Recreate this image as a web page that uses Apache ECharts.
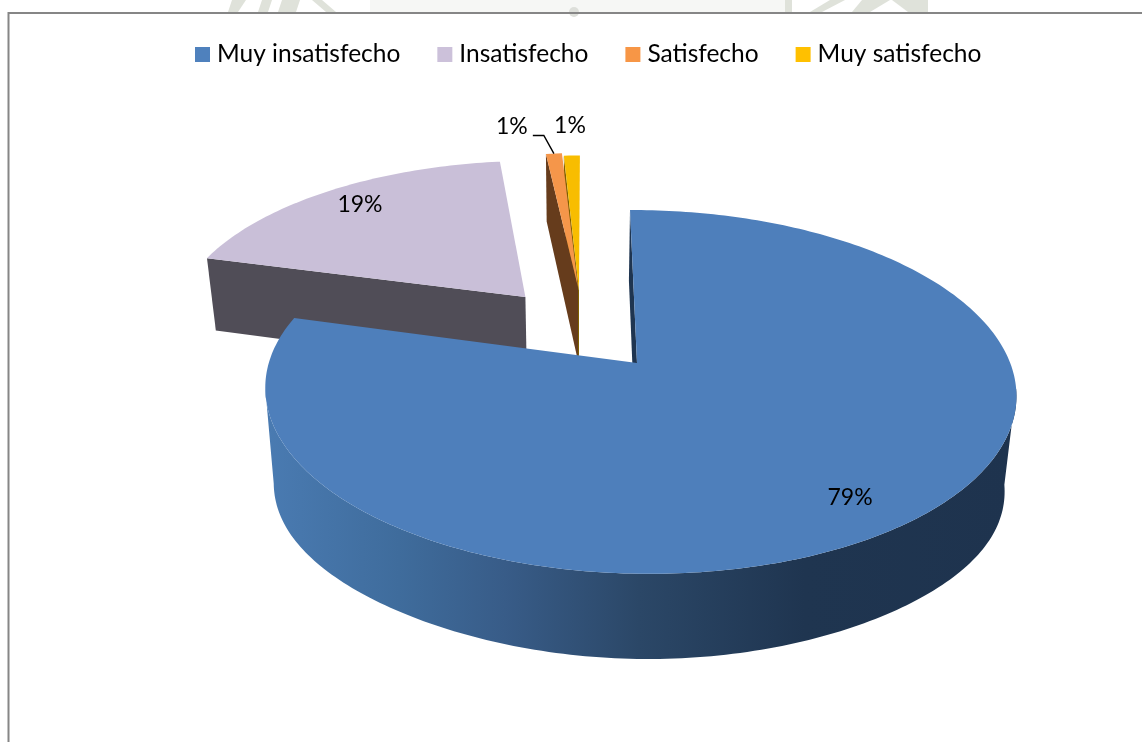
<!DOCTYPE html>
<html><head><meta charset="utf-8">
<style>html,body{margin:0;padding:0;background:#fff}#c{width:1142px;height:742px}</style>
<script src="https://cdn.jsdelivr.net/npm/echarts@6/dist/echarts.min.js"></script>
</head><body><div id="c"></div>
<script>
// Data
const categories = ['Muy insatisfecho','Insatisfecho','Satisfecho','Muy satisfecho'];
const values = [79.2, 19.0, 0.85, 0.85];
// Style
const topColors = ['#4F81BD','#CCC1DA','#F79646','#FFC000'];
const faceColors = ['#4E7FBB','#C9BFD8','#F5964A','#F8BD00'];
const wallColors = ['#1F3550','#504D57','#663C1C','#7F6000'];
const zOrder = [40,10,30,20];
const explodeU = [0,-0.312,-0.161,-0.158];
const explodeV = [0,0.396,0.46,0.44];
const twist = [0,-0.2,-0.2,0];
const labelR = [0.84,0.84,1.15,1.15];
const labelDx = [-5,2,-39,-1];
const labelDy = [2,-2,-10,-13];
const FONT = 'Lato, Carlito, sans-serif';

// Perspective camera of the disc
const cam = {ox:637, oy:363, g:370.7, f:177.3, a:-8.1, b:-1.5, c:79.6, k:0.159, m:-0.0067, n:0.027, bulge:18};
function project(u,v,z){
  const w = 1 + cam.k*v + cam.m*u + cam.n*z;
  return [cam.ox + (cam.g*u + cam.a*v + cam.b*z)/w, cam.oy + (-cam.f*v + cam.c*z)/w];
}
const total = values.reduce((a,b)=>a+b,0);
function sliceAngles(i){
  let s = 0; for(let j=0;j<i;j++) s += values[j];
  const a0 = s/total*360 + twist[i];
  return [a0, a0 + values[i]/total*360];
}
const rad = d=>d*Math.PI/180;
function renderSlice(i){
  return function(params, api){
    const val = api.value(0);
    const [a0,a1] = sliceAngles(i);
    const du = explodeU[i], dv = explodeV[i];
    const pt = (deg,r,z)=>project(du + r*Math.sin(rad(deg)), dv + r*Math.cos(rad(deg)), z);
    const children = [];
    // rim wall between the two silhouette angles of the top face
    const r0 = Math.max(a0,98), r1 = Math.min(a1,262);
    if (r1 > r0){
      const pts = [];
      for(let d=r0;d<=r1;d+=1) pts.push(pt(d,1,0));
      for(let d=r1;d>=r0;d-=1){
        const p = pt(d,1,1), s = Math.sin(rad(d));
        pts.push([p[0], p[1] + cam.bulge*s*s*s*s]);
      }
      children.push({type:'polygon',shape:{points:pts},style:{
        fill:new echarts.graphic.LinearGradient(264,0,1015,0,[
          {offset:0,color:'#4A7BB2'},{offset:0.18,color:'#3F6C9C'},{offset:0.32,color:'#385C88'},
          {offset:0.5,color:'#2B4767'},{offset:0.72,color:'#1F3550'},{offset:1,color:'#1E334E'}],true)}});
    }
    // cut wall at the start edge
    children.push({type:'polygon',shape:{points:[pt(a0,0,0),pt(a0,1,0),pt(a0,1,1),pt(a0,0,1)]},
      style:{fill:wallColors[i]}});
    // top face
    const top = [pt(a0,0,0)];
    for(let d=a0;d<a1;d+=1) top.push(pt(d,1,0));
    top.push(pt(a1,1,0));
    children.push({type:'polygon',shape:{points:top},style:{fill:faceColors[i]}});
    // label
    const mid = (a0+a1)/2;
    const lp = pt(mid,labelR[i],0);
    const lx = lp[0]+labelDx[i], ly = lp[1]+labelDy[i];
    if (i===2){
      const o = pt(mid,1,0);
      children.push({type:'polyline',shape:{points:[[lx+21,ly+9],[lx+32,ly+9],o]},
        style:{stroke:'#000',lineWidth:1.4,fill:'none'}});
    }
    children.push({type:'text',style:{text:Math.round(val/total*100)+'%',x:lx,y:ly,
      fill:'#000',font:'23px '+FONT,align:'center',verticalAlign:'middle'}});
    return {type:'group',children};
  };
}
const series = categories.map((name,i)=>({
  type:'custom', name, coordinateSystem:'none', z:zOrder[i], silent:true,
  itemStyle:{color:topColors[i]}, data:[[values[i]]], renderItem:renderSlice(i)
}));
const watermark = [
  [[232,0],[246,0],[238,12],[228,12]], [[262,0],[272,0],[268,12],[258,12]],
  [[282,0],[300,0],[296,12],[278,12]], [[312,0],[322,0],[336,12],[326,12]],
  [[785,0],[792,0],[792,12],[785,12]], [[830,0],[845,0],[822,12],[810,12]],
  [[862,0],[890,0],[870,12],[852,12]], [[892,0],[928,0],[928,12],[908,12]]
];
const chart = echarts.init(document.getElementById('c'),null,{renderer:'canvas'});
chart.setOption({
  animation:false, backgroundColor:'#fff',
  legend:{data:categories, top:42, left:195, padding:0, icon:'rect', itemWidth:15, itemHeight:15, itemGap:37,
    selectedMode:false, textStyle:{color:'#000',fontFamily:FONT,fontSize:24.5,padding:[0,0,0,2]}},
  series,
  graphic:[
    {type:'rect',silent:true,shape:{x:370,y:0,width:415,height:12},style:{fill:'#F6F7F5'}},
    {type:'circle',silent:true,shape:{cx:574,cy:12,r:5},style:{fill:'#DDDFDA'}},
    ...watermark.map(p=>({type:'polygon',silent:true,shape:{points:p},style:{fill:'#DFE2DA'}})),
    {type:'polyline',silent:true,shape:{points:[[8.5,742],[8.5,13],[1142,13]]},
      style:{stroke:'#868686',lineWidth:2,fill:'none'}}
  ]
});
</script></body></html>
